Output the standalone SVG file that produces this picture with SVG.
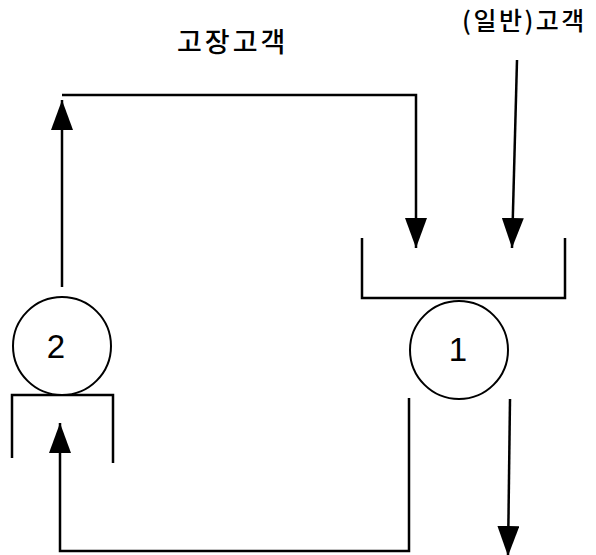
<svg xmlns="http://www.w3.org/2000/svg" width="596" height="555" viewBox="0 0 596 555">
<style>
.ln{fill:none;stroke:#000;stroke-width:2.5}
.nd{fill:#fff;stroke:#000;stroke-width:2}
.lb{font-family:"Noto Sans CJK KR","Noto Sans",sans-serif;font-weight:500;fill:#000}
.num{font-family:"Liberation Sans","DejaVu Sans",sans-serif;font-size:33px;fill:#000;text-anchor:middle}
</style>
<defs>
<marker id="ah" markerUnits="userSpaceOnUse" markerWidth="31" markerHeight="22" refX="30" refY="11" orient="auto">
<path d="M0,0 L30,11 L0,22 z" fill="#000"/>
</marker>
</defs>
<rect width="596" height="555" fill="#fff"/>
<g id="connectors">
<path class="ln" d="M62,287 V100" marker-end="url(#ah)"/>
<path class="ln" d="M62,95 H416 V248" marker-end="url(#ah)"/>
<path class="ln" d="M517,60 L512,248" marker-end="url(#ah)"/>
<path class="ln" d="M409,398 V551 H60 V423" marker-end="url(#ah)"/>
<path class="ln" d="M510,399 L508,556" marker-end="url(#ah)"/>
</g>
<g id="queue1">
<path class="ln" d="M362,238 V298 H565 V238"/>
</g>
<g id="server1">
<circle class="nd" cx="459" cy="350" r="49"/>
<text class="num" x="458" y="361">1</text>
</g>
<g id="queue2">
<path class="ln" d="M12,458 V395 H113 V463"/>
</g>
<g id="server2">
<circle class="nd" cx="62" cy="346" r="49"/>
<text class="num" x="56" y="358">2</text>
</g>
<g id="labels">
<text class="lb" x="177" y="52" font-size="27" letter-spacing="3">고장고객</text>
<text class="lb" x="462" y="30" font-size="25" letter-spacing="2.5">(일반)고객</text>
</g>
</svg>
